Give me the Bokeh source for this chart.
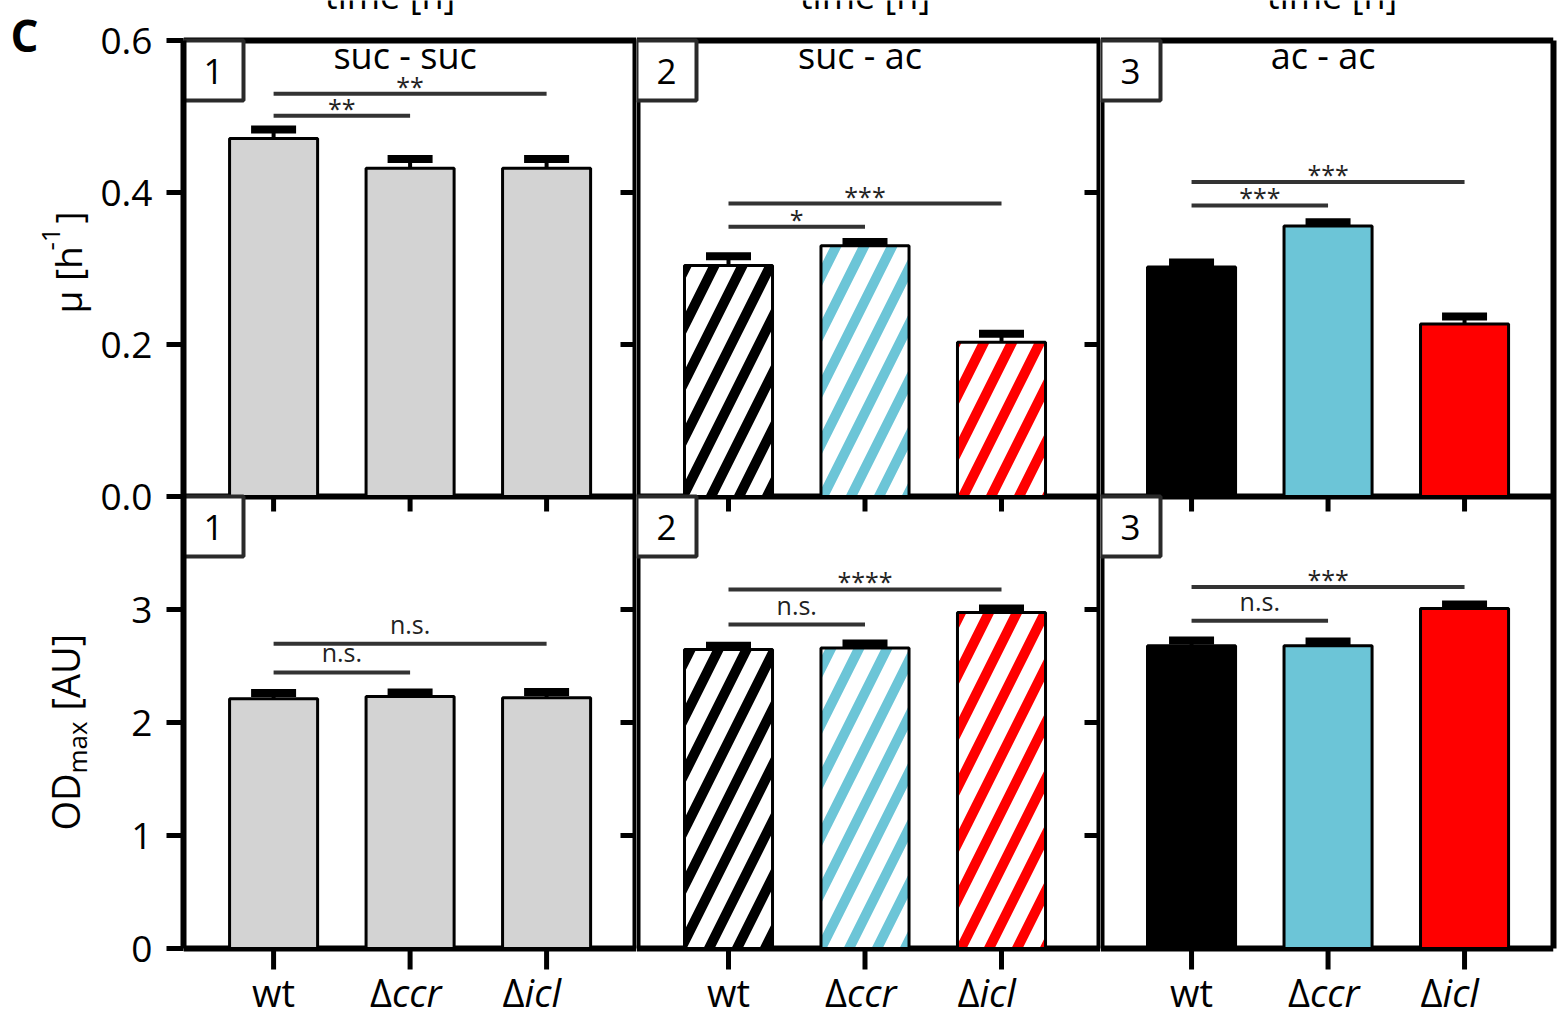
import math
from bokeh.plotting import figure
from bokeh.layouts import row
from bokeh.models import (Range1d, LinearAxis, FixedTicker, Whisker, TeeHead,
                          ColumnDataSource)
from bokeh.core.properties import value
from bokeh.embed import file_html
from bokeh.resources import INLINE

FONT = "Open Sans"

# ---------------- data ----------------
strains = ["wt", "Δccr", "Δicl"]
tick_prefix = ["", "Δ", "Δ"]
tick_body = ["wt", "ccr", "icl"]
tick_italic = [False, True, True]

conditions = ["suc - suc", "suc - ac", "ac - ac"]
panel_ids = ["1", "2", "3"]

# growth rate mu [1/h]
mu_mean = [[0.471, 0.432, 0.432],
           [0.304, 0.330, 0.203],
           [0.302, 0.356, 0.227]]
mu_err = [[0.012, 0.012, 0.012],
          [0.012, 0.005, 0.011],
          [0.006, 0.005, 0.010]]

# OD max [AU]
od_mean = [[2.21, 2.23, 2.22],
           [2.645, 2.66, 2.973],
           [2.68, 2.68, 3.009]]
od_err = [[0.05, 0.035, 0.05],
          [0.035, 0.04, 0.035],
          [0.045, 0.036, 0.036]]

# significance brackets
mu_sig_from = [[0, 0], [0, 0], [0, 0]]
mu_sig_to = [[1, 2], [1, 2], [1, 2]]
mu_sig_level = [[0.501, 0.530], [0.355, 0.3855], [0.383, 0.4137]]
mu_sig_text = [["**", "**"], ["*", "***"], ["***", "***"]]

od_sig_from = [[0, 0], [0, 0], [0, 0]]
od_sig_to = [[1, 2], [1, 2], [1, 2]]
od_sig_level = [[2.443, 2.698], [2.867, 3.177], [2.90, 3.20]]
od_sig_text = [["n.s.", "n.s."], ["n.s.", "****"], ["n.s.", "***"]]

mu_ticks = [0.0, 0.2, 0.4, 0.6]
mu_tick_labels = ["0.0", "0.2", "0.4", "0.6"]
od_ticks = [0, 1, 2, 3]
od_tick_labels = ["0", "1", "2", "3"]
MU_MAX = 0.6
OD_MAX = 4.0

GREY = "#D3D3D3"
BLUE = "#6CC5D7"
RED = "#FF0000"
BLACK = "#000000"
panel_colors = [[GREY, GREY, GREY], [BLACK, BLUE, RED], [BLACK, BLUE, RED]]
panel_hatched = [False, True, False]

# ---------------- geometry (pixels) ----------------
PAGE_H = 1016
OD0_PX, OD_PX = 948, 113.0      # screen row of OD=0, pixels per OD unit
MU0_PX, MU_PX = 496, 760.0      # screen row of mu=0, pixels per mu unit
FRAME_W = [453, 464, 453]
X_START = [-0.66, -0.674, -0.667]
SPACING = 136.5
STRIP_W = 96
LEFT0 = 87
RIGHT2 = 8

od_start, od_end = -(PAGE_H - OD0_PX) / OD_PX, OD0_PX / OD_PX
mu_start, mu_end = -(PAGE_H - MU0_PX) / MU_PX, MU0_PX / MU_PX


def od_of_mu(v):
    return od_start + (v - mu_start) / (mu_end - mu_start) * (od_end - od_start)


TOP_OD = od_of_mu(MU_MAX)


def text(p, x, y, t, size, **kw):
    p.text(x=x, y=y, text=t, text_font=value(FONT), text_font_size=size,
           text_color=kw.pop("color", "black"), **kw)


def build(c):
    fw = FRAME_W[c]
    xs0 = X_START[c]
    xs1 = xs0 + fw / SPACING
    p = figure(frame_width=fw, frame_height=PAGE_H,
               x_range=Range1d(xs0, xs1), y_range=Range1d(od_start, od_end),
               output_backend="svg", toolbar_location=None,
               x_axis_location=None, y_axis_location=None,
               min_border_left=LEFT0 if c == 0 else 0,
               min_border_right=RIGHT2 if c == 2 else 0,
               min_border_top=0, min_border_bottom=0,
               background_fill_color="white", border_fill_color="white",
               outline_line_color=None)
    p.extra_y_ranges = {"mu": Range1d(mu_start, mu_end)}
    p.grid.visible = False
    xt = list(range(len(strains)))

    if c == 0:
        ticks = [float(t) for t in od_ticks] + [od_of_mu(t) for t in mu_ticks]
        labels = od_tick_labels + mu_tick_labels
        ax = LinearAxis(ticker=FixedTicker(ticks=ticks),
                        major_label_overrides={t: s for t, s in zip(ticks, labels)},
                        bounds=(0, TOP_OD),
                        axis_line_width=6, major_tick_line_width=5,
                        major_tick_out=17, major_tick_in=0, minor_tick_line_color=None,
                        major_label_standoff=14,
                        major_label_text_font=FONT, major_label_text_font_size="37px",
                        major_label_text_color="black")
        p.add_layout(ax, "left")
    if c == 2:
        ax = LinearAxis(ticker=FixedTicker(ticks=[]), bounds=(0, TOP_OD),
                        axis_line_width=6, major_tick_out=0, major_tick_in=0,
                        minor_tick_line_color=None, major_label_standoff=0)
        p.add_layout(ax, "right")

    # panel frames
    p.hspan(y=[0, OD_MAX], line_color="black", line_width=6)
    p.hspan(y=[MU_MAX], line_color="black", line_width=6, y_range_name="mu")
    edges = []
    if c > 0:
        edges.append(xs0)
    if c < 2:
        edges.append(xs1)
    p.segment(x0=edges, y0=0, x1=edges, y1=TOP_OD, line_color="black", line_width=8)

    # ticks
    p.ray(x=xt, y=0, length=21, angle=-math.pi / 2, length_units="screen",
          line_color="black", line_width=5)
    p.ray(x=xt, y=OD_MAX, length=15, angle=-math.pi / 2, length_units="screen",
          line_color="black", line_width=5)
    if c < 2:
        p.ray(x=xs1, y=od_ticks, length=16, angle=math.pi, length_units="screen",
              line_color="black", line_width=5)
        p.ray(x=xs1, y=mu_ticks, length=16, angle=math.pi, length_units="screen",
              line_color="black", line_width=5, y_range_name="mu")

    for r in range(2):
        rname = "mu" if r == 0 else "default"
        means = mu_mean[c] if r == 0 else od_mean[c]
        errs = mu_err[c] if r == 0 else od_err[c]
        src = ColumnDataSource(dict(x=xt, top=means,
                                    upper=[m + e for m, e in zip(means, errs)],
                                    color=panel_colors[c]))
        if panel_hatched[c]:
            p.vbar(x="x", top="top", bottom=0, width=0.645, source=src,
                   fill_color="white", line_color="black", line_width=3,
                   hatch_pattern="/", hatch_color="color", hatch_weight=10,
                   hatch_scale=56, y_range_name=rname)
        else:
            p.vbar(x="x", top="top", bottom=0, width=0.645, source=src,
                   fill_color="color", line_color="black", line_width=3,
                   y_range_name=rname)
        wh = Whisker(source=src, base="x", lower="top", upper="upper", dimension="height",
                     line_color="black", line_width=4,
                     upper_head=TeeHead(size=45, line_width=8, line_color="black"),
                     lower_head=None, level="glyph", y_range_name=rname)
        p.add_layout(wh)

        sf = mu_sig_from[c] if r == 0 else od_sig_from[c]
        st = mu_sig_to[c] if r == 0 else od_sig_to[c]
        sl = mu_sig_level[c] if r == 0 else od_sig_level[c]
        sx = mu_sig_text[c] if r == 0 else od_sig_text[c]
        ssrc = ColumnDataSource(dict(x0=sf, x1=st, y=sl, text=sx,
                                     xm=[(a + b) / 2 for a, b in zip(sf, st)],
                                     yoff=[-8 if "*" in t else -20 for t in sx]))
        p.segment(x0="x0", y0="y", x1="x1", y1="y", source=ssrc,
                  line_color="#333333", line_width=4, y_range_name=rname)
        p.text(x="xm", y="y", text="text", source=ssrc, y_offset="yoff",
               text_align="center", text_baseline="alphabetic",
               text_font=value(FONT), text_font_size="25px", text_color="#222222",
               y_range_name=rname)

        # panel number box
        ymax = MU_MAX if r == 0 else OD_MAX
        ypx = MU_PX if r == 0 else OD_PX
        p.rect(x=[xs0 + 30 / SPACING], y=[ymax - 30 / ypx], width=60, height=60,
               width_units="screen", height_units="screen", fill_color="white",
               line_color="#2a2a2a", line_width=4, y_range_name=rname)
        text(p, [xs0], [ymax], [panel_ids[c]], "35px", x_offset=30, y_offset=31,
             text_align="center", text_baseline="middle", y_range_name=rname)

    # condition titles
    text(p, [1], [MU_MAX], [conditions[c]], "36px", x_offset=-5, y_offset=15,
         text_align="center", text_baseline="middle", y_range_name="mu")
    # cut-off axis titles of the panels above
    text(p, [1], [MU_MAX], ["time [h]"], "36px", x_offset=[-20, 0, 4][c], y_offset=-45,
         text_align="center", text_baseline="middle", y_range_name="mu")

    # strain labels
    for i in range(len(strains)):
        if tick_prefix[i]:
            split = [0, -18, -22][i]
            text(p, [xt[i]], [0], [tick_prefix[i]], "38px", x_offset=split, y_offset=43,
                 text_align="right", text_baseline="middle")
            text(p, [xt[i]], [0], [tick_body[i]], "38px", x_offset=split, y_offset=43,
                 text_align="left", text_baseline="middle",
                 text_font_style="italic" if tick_italic[i] else "normal")
        else:
            text(p, [xt[i]], [0], [tick_body[i]], "38px", y_offset=43,
                 text_align="center", text_baseline="middle")
    return p


# strip with the figure letter and the rotated y titles (coordinates = pixels)
strip = figure(frame_width=STRIP_W, frame_height=PAGE_H,
               x_range=Range1d(0, STRIP_W), y_range=Range1d(PAGE_H, 0),
               output_backend="svg", toolbar_location=None,
               x_axis_location=None, y_axis_location=None,
               min_border_left=0, min_border_right=0, min_border_top=0, min_border_bottom=0,
               background_fill_color="white", border_fill_color="white",
               outline_line_color=None)
strip.grid.visible = False
strip.text(x=[10], y=[34], text=["C"], text_font=value(FONT), text_font_size="44px",
           text_font_style="bold", text_color="black", text_align="left",
           text_baseline="middle")
for t, xx, yy, fs in [("μ [h", 67, 313, "37px"), ("-1", 50, 250, "26px"), ("]", 67, 223, "37px"),
                      ("OD", 64, 830, "38px"), ("max", 76, 773, "26px"), ("[AU]", 64, 710, "38px")]:
    strip.text(x=[xx], y=[yy], text=[t], angle=math.pi / 2, text_font=value(FONT),
               text_font_size=fs, text_color="black", text_align="left",
               text_baseline="middle")

cols = [build(c) for c in range(3)]
layout = row([strip] + cols)

open("out.html", "w").write(file_html(layout, INLINE))
